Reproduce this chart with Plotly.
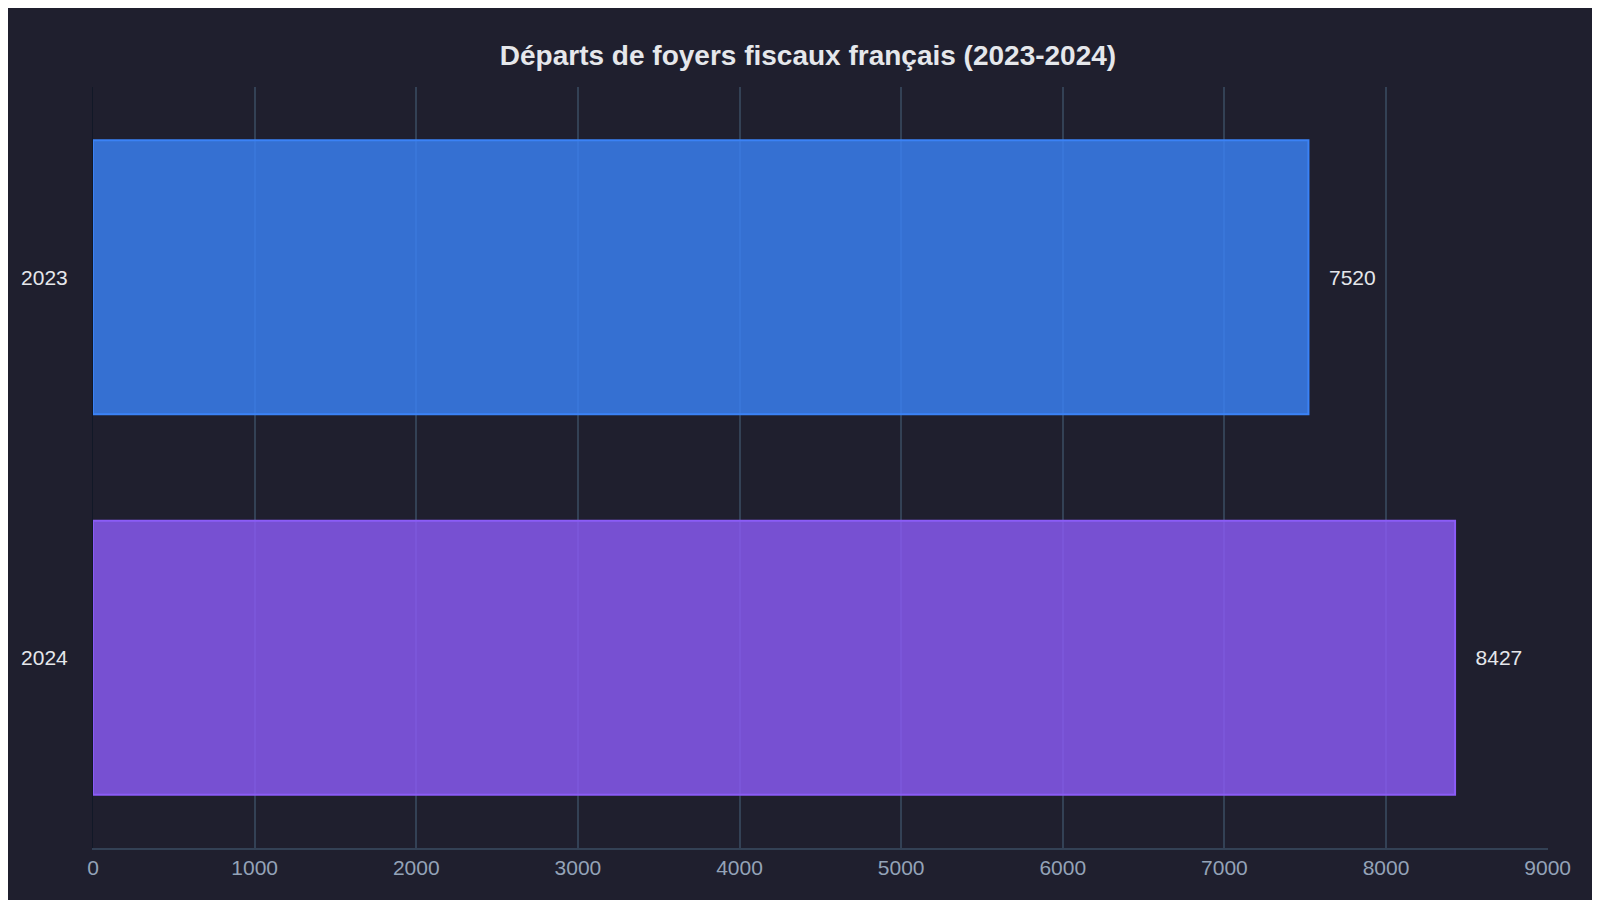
import plotly.graph_objects as go

years = ["2023", "2024"]
departures = [7520, 8427]
fill_colors = ["rgba(59,130,246,0.82)", "rgba(139,92,246,0.82)"]
edge_colors = ["#3b82f6", "#8b5cf6"]

fig = go.Figure(go.Bar(
    x=departures, y=years, orientation="h",
    marker=dict(color=fill_colors, line=dict(color=edge_colors, width=2)),
    text=["   " + str(v) for v in departures], textposition="outside",
    textfont=dict(color="#e5e7eb", size=21), width=0.72, cliponaxis=False,
))
fig.update_layout(
    width=1600, height=900,
    paper_bgcolor="#1f1f2e", plot_bgcolor="#1f1f2e",
    font=dict(family="Liberation Sans, Arial", color="#e5e7eb"),
    title=dict(text="<b>Départs de foyers fiscaux français (2023-2024)</b>", x=0.5, y=0.958,
               xanchor="center", font=dict(size=28, color="#e5e7eb")),
    margin=dict(l=85, r=60, t=79, b=60),
    xaxis=dict(range=[0, 9002], tickvals=list(range(0, 9001, 1000)), gridcolor="#334155", gridwidth=1.5,
               showline=True, linecolor="#334155", linewidth=1.5, zeroline=False,
               ticks="", tickfont=dict(size=21, color="#94a3b8"), layer="above traces"),
    yaxis=dict(autorange="reversed", tickfont=dict(size=21, color="#e5e7eb"),
               showline=True, linecolor="#111827", ticks="", ticklabelstandoff=20),
    showlegend=False,
)
fig.write_html("out.html")
